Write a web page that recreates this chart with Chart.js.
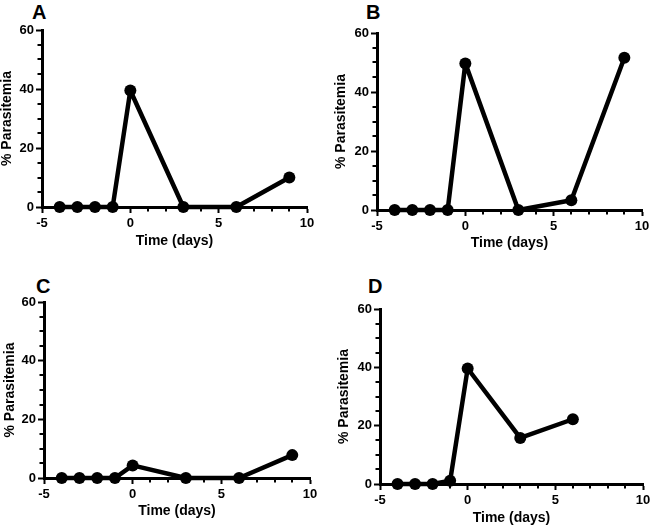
<!DOCTYPE html>
<html>
<head>
<meta charset="utf-8">
<script src="https://cdn.jsdelivr.net/npm/chart.js@4"></script>
<style>
  html, body { margin: 0; padding: 0; background: #fff; overflow: hidden; }
  body { width: 650px; height: 526px; position: relative; }
  .panel { position: absolute; }
  .tag { position: absolute; font: bold 20px "Liberation Sans", Arial, sans-serif; line-height: 20px; color: #000; }
</style>
</head>
<body>
<div class="tag" style="left:32px;top:2px">A</div>
<div class="tag" style="left:366px;top:2px">B</div>
<div class="tag" style="left:36px;top:276px">C</div>
<div class="tag" style="left:368px;top:276px">D</div>

<div class="panel" style="left:0px;top:20px;width:319px;height:228px"><canvas id="chartA"></canvas></div>
<div class="panel" style="left:334px;top:23px;width:320px;height:227px"><canvas id="chartB"></canvas></div>
<div class="panel" style="left:3px;top:292px;width:319px;height:226px"><canvas id="chartC"></canvas></div>
<div class="panel" style="left:337px;top:299px;width:318px;height:226px"><canvas id="chartD"></canvas></div>

<script>
// days relative to treatment, % parasitemia per mouse
const days = [-4, -3, -2, -1, 0, 3, 6, 9];
const daysD = [-4, -3, -2, -1, 0, 3, 6];
const parasitemiaA = [0, 0, 0, 0, 39.5, 0, 0, 10];
const parasitemiaB = [0, 0, 0, 0, 49.7, 0, 3.3, 51.6];
const parasitemiaC = [0, 0, 0, 0, 4.3, 0, 0, 7.8];
const parasitemiaD = [0, 0, 0, 1.1, 39.6, 15.8, 22.2];

const xTicks = [-5, 0, 5, 10];
const yTicks = [0, 20, 40, 60];
const xMinorStep = 1;
const yMinorStep = 5;

Chart.defaults.font.family = '"Liberation Sans", Arial, sans-serif';
Chart.defaults.color = '#000';

// small ticks between the labelled ones
const minorTicks = {
  id: 'minorTicks',
  beforeDatasetsDraw(chart) {
    const { ctx, scales: { x, y } } = chart;
    ctx.save();
    ctx.strokeStyle = '#000';
    ctx.lineWidth = 2;
    ctx.beginPath();
    const xStep = xTicks[1] - xTicks[0];
    for (let v = x.min; v <= x.max; v += xMinorStep) {
      if (v % xStep === 0) continue;
      const px = Math.round(x.getPixelForValue(v));
      ctx.moveTo(px, x.top);
      ctx.lineTo(px, x.top + 4.5);
    }
    const yStep = yTicks[1] - yTicks[0];
    for (let v = y.min; v <= y.max; v += yMinorStep) {
      if (v % yStep === 0) continue;
      const py = Math.round(y.getPixelForValue(v));
      ctx.moveTo(y.right, py);
      ctx.lineTo(y.right - 4.5, py);
    }
    ctx.stroke();
    ctx.restore();
  }
};

function makePanel(id, xs, ys, yWidth, xHeight) {
  const points = xs.map((d, i) => ({ x: d, y: ys[i] }));
  new Chart(document.getElementById(id), {
    type: 'line',
    data: {
      datasets: [{
        data: points,
        borderColor: '#000',
        borderWidth: 4.5,
        borderJoinStyle: 'round',
        pointRadius: 6,
        pointHoverRadius: 6,
        pointBackgroundColor: '#000',
        pointBorderWidth: 0,
        tension: 0,
        clip: false
      }]
    },
    options: {
      responsive: true,
      maintainAspectRatio: false,
      animation: false,
      layout: { padding: { left: 0, top: 10, right: 12, bottom: 0 } },
      plugins: { legend: { display: false }, tooltip: { enabled: false } },
      scales: {
        x: {
          type: 'linear',
          min: xTicks[0],
          max: xTicks[xTicks.length - 1],
          ticks: { stepSize: xTicks[1] - xTicks[0], font: { size: 13, weight: 'bold' }, padding: 3, color: '#000' },
          grid: { drawOnChartArea: false, drawTicks: true, tickLength: 6, tickWidth: 2, tickColor: '#000' },
          border: { display: true, color: '#000', width: 3 },
          title: { display: true, text: 'Time (days)', font: { size: 14, weight: 'bold', lineHeight: 1 }, padding: 0, color: '#000' },
          afterFit(s) { s.height = xHeight; }
        },
        y: {
          min: yTicks[0],
          max: yTicks[yTicks.length - 1],
          ticks: { stepSize: yTicks[1] - yTicks[0], font: { size: 13, weight: 'bold' }, padding: 2, color: '#000' },
          grid: { drawOnChartArea: false, drawTicks: true, tickLength: 6, tickWidth: 2, tickColor: '#000' },
          border: { display: true, color: '#000', width: 3 },
          title: { display: true, text: '% Parasitemia', font: { size: 14, weight: 'bold', lineHeight: 1 }, padding: 0, color: '#000' },
          afterFit(s) { s.width = yWidth; }
        }
      }
    },
    plugins: [minorTicks]
  });
}

makePanel('chartA', days, parasitemiaA, 42, 41);
makePanel('chartB', days, parasitemiaB, 43, 40);
makePanel('chartC', days, parasitemiaC, 41, 40);
makePanel('chartD', daysD, parasitemiaD, 43, 41);
</script>
</body>
</html>
